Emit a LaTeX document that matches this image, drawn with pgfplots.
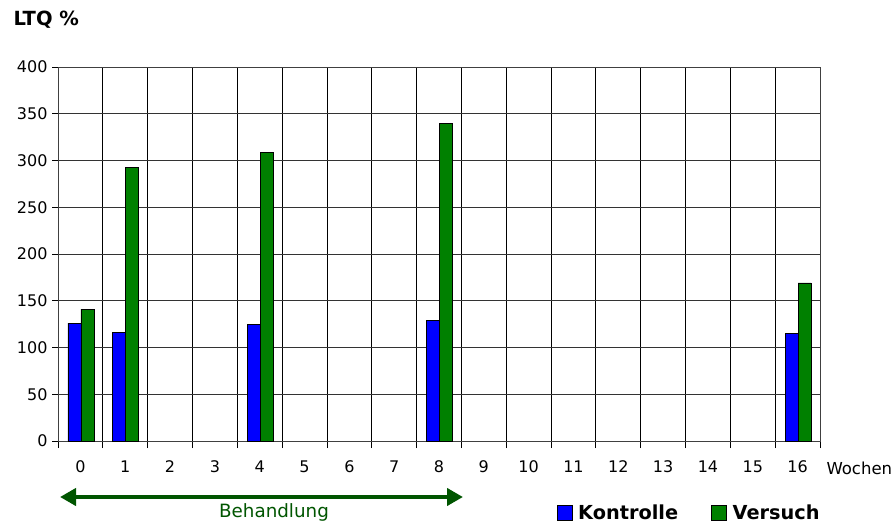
\documentclass[border=0pt]{standalone}
\usepackage{pgfplots}
\pgfplotsset{compat=1.18}
\usepackage{fontspec}
\setmainfont{DejaVu Sans}
\usetikzlibrary{arrows.meta}
\definecolor{kblue}{RGB}{0,0,255}
\definecolor{vgreen}{RGB}{0,128,0}
\definecolor{arrgreen}{RGB}{0,85,0}
\begin{document}
\begin{tikzpicture}[x=1pt,y=1pt]
\useasboundingbox (0,0) rectangle (895,523);
\begin{axis}[
  at={(58pt,82pt)}, anchor=south west,
  scale only axis, width=762pt, height=374pt,
  xmin=-0.5, xmax=16.5, ymin=0, ymax=400,
  ybar, bar width=13pt,
  xtick={0,...,16},
  xticklabels={0,1,2,3,4,5,6,7,8,9,10,11,12,13,14,15,16},
  minor xtick={-0.5,0.5,...,16.5},
  xtick pos=bottom, ytick pos=left,
  xminorgrids, ymajorgrids,
  minor grid style={black, line width=0.8pt},
  major grid style={black!80, line width=0.8pt},
  major x tick style={draw=none},
  minor x tick style={black, line width=0.8pt},
  y tick style={black, line width=0.8pt},
  tick align=outside,
  minor tick length=7pt, major tick length=6pt,
  ytick={0,50,...,400},
  axis line style={black!75, line width=0.8pt},
  /pgf/number format/assume math mode=true,
  tick label style={font=\fontsize{16}{18}\selectfont},
  xticklabel style={yshift=-10pt},
  yticklabel style={xshift=-1pt},
  legend style={draw=none, fill=none, at={(0.654,-0.193)}, anchor=west,
    legend columns=2, font=\bfseries\fontsize{19.3}{21}\selectfont,
    inner sep=0pt,
    /tikz/every even column/.append style={column sep=31pt}},
  legend image code/.code={\draw[#1, draw=black] (0pt,-7.5pt) rectangle (15pt,7.5pt); \path (19pt,0pt);},
]
\addplot[fill=kblue, draw=black, line width=0.6pt, bar shift=-6pt] coordinates {(0,126) (1,116) (4,125) (8,129) (16,115)};
\addplot[fill=vgreen, draw=black, line width=0.6pt, bar shift=7pt] coordinates {(0,141) (1,293) (4,309) (8,340) (16,169)};
\legend{Kontrolle,Versuch}
\end{axis}
\node[anchor=west, font=\bfseries\fontsize{19.5}{21}\selectfont] at (10,503) {LTQ \%};
\node[anchor=west, font=\fontsize{16.5}{18}\selectfont] at (823,55) {Wochen};
\draw[arrgreen, line width=4pt, {Triangle[length=16pt,width=17pt]}-{Triangle[length=16pt,width=17pt]}] (60,26) -- (463,26);
\node[text=arrgreen, font=\fontsize{18.3}{20}\selectfont] at (274,11) {Behandlung};
\end{tikzpicture}
\end{document}
